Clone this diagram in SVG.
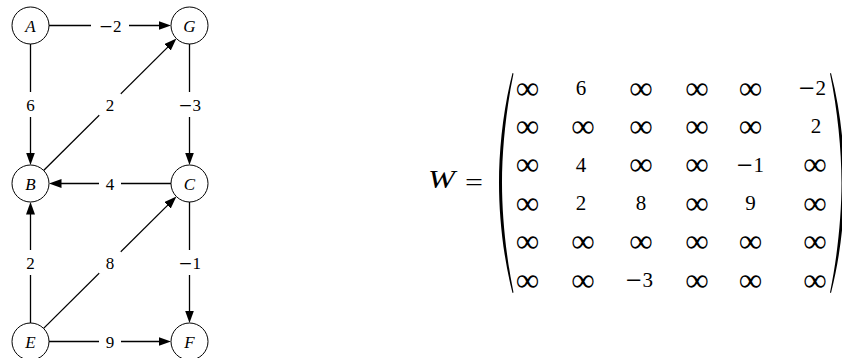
<svg xmlns="http://www.w3.org/2000/svg" width="842" height="358" viewBox="0 0 842 358">
<style>
.node circle{fill:#fff;stroke:#000;stroke-width:1}
.node text{font-family:"Liberation Serif",serif;font-style:italic;font-size:17px;text-anchor:middle}
.edge line{stroke:#000;stroke-width:1.3;marker-end:url(#ah)}
.edge rect{fill:#fff}
.edge text{font-family:"Liberation Serif",serif;font-size:17px;text-anchor:middle}
.m{font-family:"Liberation Serif",serif;font-size:21px;text-anchor:middle}
.inf{font-family:"Liberation Serif",serif;font-size:33px;text-anchor:middle}
.mn{font-family:"DejaVu Serif",serif}
</style>
<defs>
<marker id="ah" markerUnits="userSpaceOnUse" markerWidth="13" markerHeight="10" refX="6" refY="4.5" orient="auto">
<path d="M0,0 L12.5,4.5 L0,9 Z" fill="#000"/>
</marker>
</defs>
<g id="connectors">
<g class="edge" id="e-AG"><line x1="49" y1="25.5" x2="164.5" y2="25.5"/><rect x="91" y="13" width="38" height="25"/><text x="110" y="31.5"><tspan class="mn">−</tspan>2</text></g>
<g class="edge" id="e-AB"><line x1="30.5" y1="44" x2="30.5" y2="158.5"/><rect x="19" y="92" width="23" height="25"/><text x="30.5" y="110.5">6</text></g>
<g class="edge" id="e-BG"><line x1="43.6" y1="170.5" x2="171.8" y2="43.1"/><rect x="99" y="93.5" width="22" height="22"/><text x="110" y="110.5">2</text></g>
<g class="edge" id="e-GC"><line x1="189.5" y1="44" x2="189.5" y2="158.5"/><rect x="173" y="92" width="33" height="25"/><text x="189.5" y="110.5"><tspan class="mn">−</tspan>3</text></g>
<g class="edge" id="e-CB"><line x1="171" y1="183.5" x2="55.5" y2="183.5"/><rect x="99" y="171" width="22" height="25"/><text x="110" y="189.5">4</text></g>
<g class="edge" id="e-EB"><line x1="30.5" y1="323" x2="30.5" y2="208.5"/><rect x="19" y="250" width="23" height="25"/><text x="30.5" y="268.5">2</text></g>
<g class="edge" id="e-EC"><line x1="43.6" y1="328.4" x2="171.8" y2="201.1"/><rect x="99" y="251.5" width="22" height="22"/><text x="110" y="268.5">8</text></g>
<g class="edge" id="e-CF"><line x1="189.5" y1="202" x2="189.5" y2="316.5"/><rect x="173" y="250" width="33" height="25"/><text x="189.5" y="268.5"><tspan class="mn">−</tspan>1</text></g>
<g class="edge" id="e-EF"><line x1="49" y1="341.5" x2="164.5" y2="341.5"/><rect x="99" y="329" width="22" height="25"/><text x="110" y="347.5">9</text></g>
</g>
<g class="node" id="A"><circle cx="30.5" cy="25.5" r="18.5"/><text x="30.5" y="31.5">A</text></g>
<g class="node" id="G"><circle cx="189.5" cy="25.5" r="18.5"/><text x="189.5" y="31.5">G</text></g>
<g class="node" id="B"><circle cx="30.5" cy="183.5" r="18.5"/><text x="30.5" y="189.5">B</text></g>
<g class="node" id="C"><circle cx="189.5" cy="183.5" r="18.5"/><text x="189.5" y="189.5">C</text></g>
<g class="node" id="E"><circle cx="30.5" cy="341.5" r="18.5"/><text x="30.5" y="347.5">E</text></g>
<g class="node" id="F"><circle cx="189.5" cy="341.5" r="18.5"/><text x="189.5" y="347.5">F</text></g>
<g id="matrix">
<text x="428" y="188" font-family="Liberation Serif, serif" font-style="italic" font-size="25" textLength="27" lengthAdjust="spacingAndGlyphs">W</text>
<text x="465" y="190" font-family="Liberation Serif, serif" font-size="24" textLength="18" lengthAdjust="spacingAndGlyphs">=</text>
<path d="M512.5,73 C503,110 499,150 499,183 C499,216 503,256 512.5,293 L513.5,292.5 C506,256 502,216 502,183 C502,150 506,110 513.5,73.5 Z" fill="#000"/>
<path d="M831,73 C840.5,110 844.5,150 844.5,183 C844.5,216 840.5,256 831,293 L830,292.5 C837.5,256 841.5,216 841.5,183 C841.5,150 837.5,110 830,73.5 Z" fill="#000"/>
<g class="inf">
<text x="527.5" y="98.5">∞</text><text x="641" y="98.5">∞</text><text x="697" y="98.5">∞</text><text x="750.5" y="98.5">∞</text>
<text x="527.5" y="136.9">∞</text><text x="583" y="136.9">∞</text><text x="641" y="136.9">∞</text><text x="697" y="136.9">∞</text><text x="750.5" y="136.9">∞</text>
<text x="527.5" y="175.3">∞</text><text x="641" y="175.3">∞</text><text x="697" y="175.3">∞</text><text x="815" y="175.3">∞</text>
<text x="527.5" y="213.7">∞</text><text x="697" y="213.7">∞</text><text x="815" y="213.7">∞</text>
<text x="527.5" y="252.1">∞</text><text x="583" y="252.1">∞</text><text x="641" y="252.1">∞</text><text x="697" y="252.1">∞</text><text x="750.5" y="252.1">∞</text><text x="815" y="252.1">∞</text>
<text x="527.5" y="290.5">∞</text><text x="583" y="290.5">∞</text><text x="697" y="290.5">∞</text><text x="750.5" y="290.5">∞</text><text x="815" y="290.5">∞</text>
</g>
<g class="m">
<text x="581" y="95">6</text><text x="812" y="95"><tspan class="mn">−</tspan>2</text>
<text x="816" y="133.4">2</text>
<text x="581" y="171.8">4</text><text x="750" y="171.8"><tspan class="mn">−</tspan>1</text>
<text x="581" y="210.2">2</text><text x="641" y="210.2">8</text><text x="750.5" y="210.2">9</text>
<text x="639" y="287"><tspan class="mn">−</tspan>3</text>
</g>
</g>
</svg>
